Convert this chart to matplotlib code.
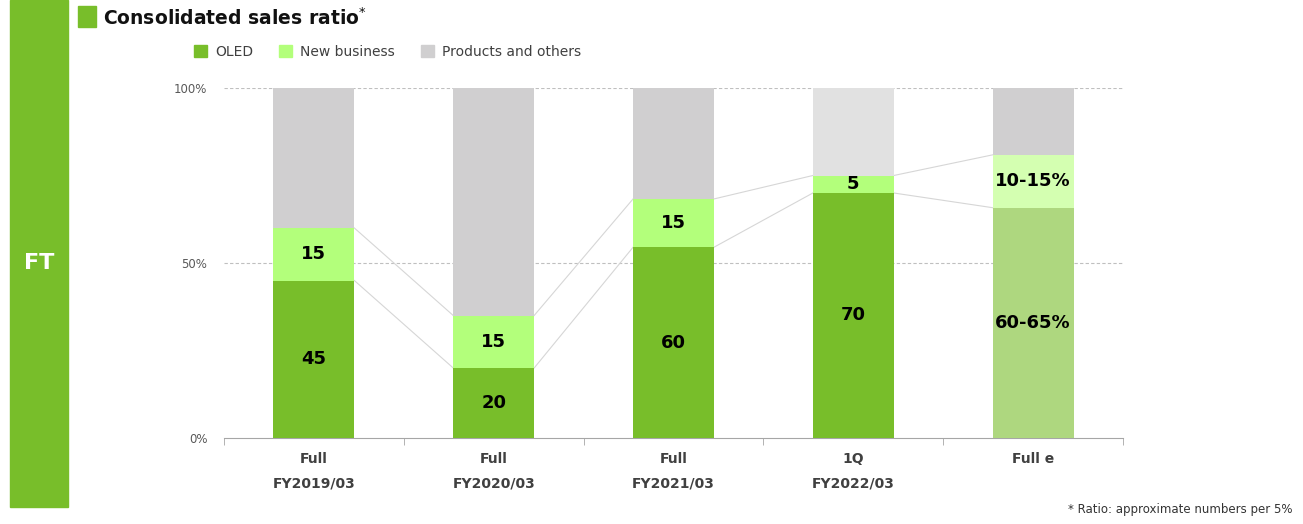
import matplotlib
matplotlib.use("Agg")
import matplotlib.pyplot as plt
from matplotlib.patches import Rectangle, Patch

# data (share of consolidated sales, %)
periods = ["Full\nFY2019/03", "Full\nFY2020/03", "Full\nFY2021/03", "1Q\nFY2022/03", "Full e"]
oled = [45, 20, 54.5, 70, 65.8]
new_business = [15, 15, 13.8, 5, 15.1]
oled_labels = ["45", "20", "60", "70", "60-65%"]
new_labels = ["15", "15", "15", "5", "10-15%"]
products = [100 - a - b for a, b in zip(oled, new_business)]

c_oled = ["#78BE2A"] * 4 + ["#AED77F"]
c_new = ["#B3FF7B"] * 4 + ["#D4FFB1"]
c_prod = ["#D0CFD0", "#D0CFD0", "#D0CFD0", "#E1E1E1", "#D0CFD0"]

W, H = 1303, 524
fig = plt.figure(figsize=(W / 100, H / 100), dpi=100)
ax = fig.add_axes([224 / W, (H - 438) / H, (1123 - 224) / W, 350 / H])

x = list(range(len(periods)))
bw = 0.45
ax.bar(x, oled, bw, color=c_oled, zorder=3)
ax.bar(x, new_business, bw, bottom=oled, color=c_new, zorder=3)
tops = [a + b for a, b in zip(oled, new_business)]
ax.bar(x, products, bw, bottom=tops, color=c_prod, zorder=3)

# connector lines between bars
for i in range(len(x) - 1):
    for s in (oled, tops):
        ax.plot([x[i] + bw / 2, x[i + 1] - bw / 2], [s[i], s[i + 1]],
                color="#D6D6D6", lw=0.8, zorder=2)

# segment labels
for i in x:
    ax.text(i, oled[i] / 2, oled_labels[i], ha="center", va="center",
            fontsize=13, fontweight="bold", color="black", zorder=4)
    ax.text(i, oled[i] + new_business[i] / 2, new_labels[i], ha="center", va="center",
            fontsize=13, fontweight="bold", color="black", zorder=4)

ax.set_xlim(-0.5, 4.5)
ax.set_ylim(0, 100)
for y in (50, 100):
    ax.axhline(y, color="#BFBFBF", lw=0.8, ls=(0, (3, 2)), zorder=1)

ax.set_yticks([0, 50, 100])
ax.set_yticklabels(["0%", "50%", "100%"], fontsize=8.5, color="#595959")
ax.tick_params(axis="y", length=0, pad=12)

ax.set_xticks([i - 0.5 for i in range(len(x) + 1)], minor=True)
ax.set_xticks(x)
ax.set_xticklabels(periods, fontsize=10, fontweight="semibold", color="#404040", linespacing=2.0)
ax.tick_params(axis="x", which="major", length=0, pad=10)
ax.tick_params(axis="x", which="minor", length=5, color="#A6A6A6", direction="out")

for sp in ("left", "right", "top"):
    ax.spines[sp].set_visible(False)
ax.spines["bottom"].set_color("#A6A6A6")

# left green panel
fig.add_artist(Rectangle((10 / W, (H - 507) / H), 58 / W, 507 / H,
                         transform=fig.transFigure, color="#78BE2A"))
fig.text(39 / W, 1 - 263 / H, "FT", ha="center", va="center", color="white",
         fontsize=16, fontweight="bold")

# title
fig.add_artist(Rectangle((78 / W, 1 - 27 / H), 18 / W, 21 / H,
                         transform=fig.transFigure, color="#78BE2A"))
fig.text(103 / W, 1 - 18 / H, "Consolidated sales ratio$^{*}$", ha="left", va="center",
         fontsize=13.5, fontweight="bold", color="#111111")

handles = [Patch(color="#78BE2A", label="OLED"),
           Patch(color="#B3FF7B", label="New business"),
           Patch(color="#D0CFD0", label="Products and others")]
fig.legend(handles=handles, loc="center left", bbox_to_anchor=(194 / W, 1 - 52 / H),
           ncol=3, frameon=False, fontsize=10, handlelength=0.9, handleheight=0.9,
           handletextpad=0.6, columnspacing=1.9, borderpad=0, borderaxespad=0,
           labelcolor="#404040")

fig.text(1292 / W, 1 - 510 / H, "* Ratio: approximate numbers per 5%", ha="right",
         va="center", fontsize=8.5, color="#333333")

fig.savefig("out.png", dpi=100)
